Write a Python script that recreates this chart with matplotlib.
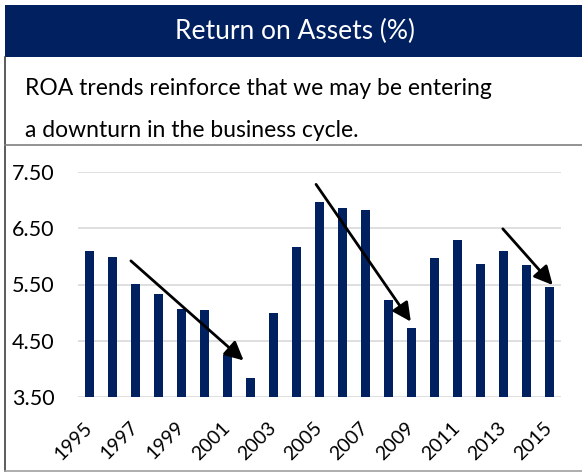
import matplotlib.pyplot as plt
from matplotlib.patches import Rectangle
from matplotlib.lines import Line2D

plt.rcParams['font.family'] = ['Lato', 'DejaVu Sans']

years = list(range(1995, 2016))
roa = [6.10, 5.99, 5.51, 5.33, 5.06, 5.05, 4.25, 3.83, 5.00, 6.17,
       6.96, 6.86, 6.82, 5.22, 4.73, 5.97, 6.29, 5.86, 6.10, 5.85, 5.46]
yticks = [3.5, 4.5, 5.5, 6.5, 7.5]
title = 'Return on Assets (%)'
note_lines = ['ROA trends reinforce that we may be entering',
              'a downturn in the business cycle.']

# trend arrows (start year, start value) -> (end year, end value)
arrows = [((1996.8, 5.92), (2001.7, 4.15)),
          ((2004.85, 7.28), (2008.97, 4.84)),
          ((2012.97, 6.49), (2015.14, 5.49))]

navy = '#002060'
W, H = 582, 474
fig = plt.figure(figsize=(W / 100, H / 100), dpi=100)

def fx(px):
    return px / W

def fy(py):
    return 1 - py / H

# header band
fig.patches.append(Rectangle((fx(5), fy(57)), fx(W), 52 / H, transform=fig.transFigure,
                             facecolor=navy, edgecolor='none'))
fig.text(fx(295), fy(31), title, color='white', fontsize=19, ha='center', va='center')

# note box
for line, base in zip(note_lines, [95, 137]):
    fig.text(fx(25), fy(base), line, fontsize=16.5, ha='left', va='baseline')

# frame lines
for xs, ys, c in [([5, 5], [57, 471], '#404040'),
                  ([5, W], [145, 145], '#808080'),
                  ([5, W], [471, 471], '#a0a0a0')]:
    fig.lines.append(Line2D([fx(x) for x in xs], [fy(y) for y in ys],
                            transform=fig.transFigure, color=c, lw=1.2))

ax = fig.add_axes([fx(78), fy(397), (561 - 78) / W, (397 - 172) / H])
ax.bar(years, [v - 3.5 for v in roa], bottom=3.5, width=0.4, color=navy, zorder=3)
ax.set_xlim(years[0] - 0.5, years[-1] + 0.5)
ax.set_ylim(3.5, 7.5)
ax.set_yticks(yticks)
ax.set_yticklabels([f'{v:.2f}' for v in yticks])
ax.set_xticks(years[::2])
ax.set_xticklabels([str(y) for y in years[::2]], rotation=45, ha='right',
                   va='center', rotation_mode='anchor')
ax.tick_params(axis='y', length=0, labelsize=15.5, pad=17)
ax.tick_params(axis='x', length=0, labelsize=14, pad=20)
ax.grid(axis='y', color='#d9d9d9', lw=1.2, zorder=0)
for s in ax.spines.values():
    s.set_visible(False)

for (x0, y0), (x1, y1) in arrows:
    ax.annotate('', xy=(x1, y1), xytext=(x0, y0),
                arrowprops=dict(arrowstyle='-|>', color='black', lw=2,
                                mutation_scale=28, shrinkA=0, shrinkB=0),
                zorder=5)

fig.savefig('out.png', dpi=100)
